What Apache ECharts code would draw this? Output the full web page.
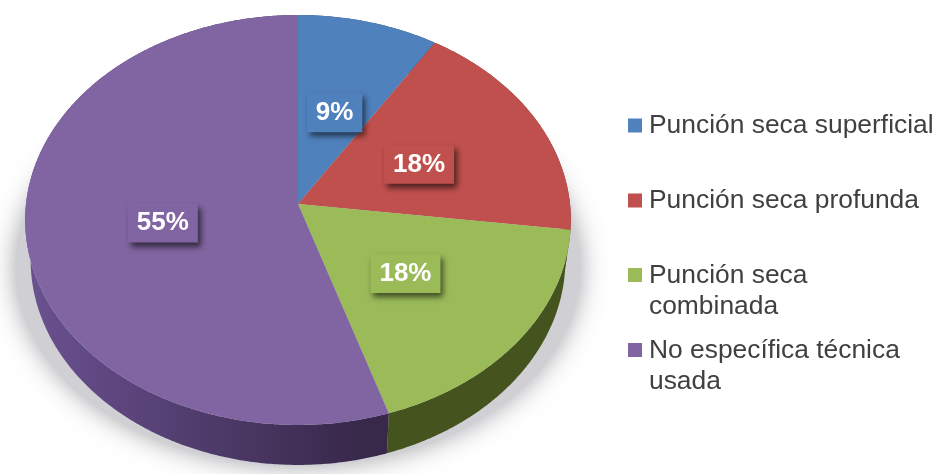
<!DOCTYPE html>
<html>
<head>
<meta charset="utf-8">
<style>html,body{margin:0;padding:0;background:#fff}#chart{width:938px;height:474px}</style>
<script src="https://cdn.jsdelivr.net/npm/echarts@6/dist/echarts.min.js"></script>
</head>
<body>
<div id="chart"></div>
<script>
// Share of studies by dry-needling technique
const categories = ['Punción seca superficial', 'Punción seca profunda', 'Punción seca combinada', 'No específica técnica usada'];
const legendLabels = ['Punción seca superficial', 'Punción seca profunda', 'Punción seca\ncombinada', 'No específica técnica\nusada'];
const percentages = [9, 18, 18, 55];
const faceColours = ['#4f81bd', '#c0504d', '#9bbb59', '#8165a2'];
const wallColours = [
  ['#2c4d74', '#2c4d74'],
  ['#752f2d', '#752f2d'],
  ['#3e4c1c', '#45541f'],
  ['#6a5190', '#38284a']
];

// Perspective projection of the unit disc onto the screen
const view = { cx: 298, cy: 204, halfWidth: 272, lift: -187.8, tilt: 0.078 };
const wall = { drop: 40, narrow: 0.98 };
const ground = { spread: 1.035, squash: 0.965, centreY: 268, middleY: 220 };

function project(u, v) {
  const d = 1 + view.tilt * v;
  return [view.cx + view.halfWidth * u / d, (view.lift * v + view.cy) / d];
}
function rimPoint(deg, radius) {
  const a = deg * Math.PI / 180;
  return project(radius * Math.sin(a), radius * Math.cos(a));
}
function lower(p) {
  return [view.cx + (p[0] - view.cx) * wall.narrow, p[1] + wall.drop];
}
function arc(from, to) {
  const pts = [];
  const steps = Math.max(2, Math.ceil((to - from) * 2));
  for (let i = 0; i <= steps; i++) pts.push(rimPoint(from + (to - from) * i / steps, 1));
  return pts;
}
const total = percentages.reduce((a, b) => a + b, 0);
function sweep(index) {
  const before = percentages.slice(0, index).reduce((a, b) => a + b, 0);
  return [before / total * 360, (before + percentages[index]) / total * 360];
}

const wallSeries = {
  type: 'custom', coordinateSystem: 'none', silent: true, z: 2,
  data: percentages.map(v => [v]),
  renderItem(params) {
    const i = params.dataIndex;
    const [a, b] = sweep(i);
    const top = arc(a, b);
    const bottom = top.map(lower).reverse();
    return {
      type: 'polygon',
      shape: { points: top.concat(bottom) },
      style: {
        fill: new echarts.graphic.LinearGradient(30, 0, 360, 0, [
          { offset: 0, color: wallColours[i][0] },
          { offset: 1, color: wallColours[i][1] }
        ], true)
      }
    };
  }
};

// Soft shadow the disc casts on the ground
const shadowSeries = {
  type: 'custom', coordinateSystem: 'none', silent: true, z: 1,
  data: [[total]],
  renderItem() {
    const pts = arc(0, 360).map(p => [
      view.cx + (p[0] - view.cx) * ground.spread,
      ground.centreY + (p[1] - ground.middleY) * ground.squash
    ]);
    return {
      type: 'polygon',
      shape: { points: pts },
      style: { fill: '#d0d0d4', shadowBlur: 26, shadowColor: 'rgba(70,70,80,0.5)' }
    };
  }
};

const faceSeries = categories.map((name, i) => ({
  type: 'custom', name, coordinateSystem: 'none', silent: true, z: 3,
  itemStyle: { color: faceColours[i] },
  data: [[percentages[i]]],
  renderItem() {
    const [a, b] = sweep(i);
    return {
      type: 'polygon',
      shape: { points: [project(0, 0)].concat(arc(a, b)) },
      style: { fill: faceColours[i] }
    };
  }
}));

const labelSeries = {
  type: 'custom', coordinateSystem: 'none', silent: true, z: 4,
  data: percentages.map(v => [v]),
  renderItem(params, api) {
    const i = params.dataIndex;
    const [a, b] = sweep(i);
    const p = rimPoint((a + b) / 2, 0.5);
    return {
      type: 'text',
      x: p[0], y: p[1] + 3,
      style: {
        text: api.value(0) + '%',
        font: 'bold 26px "Liberation Sans", Arial, sans-serif',
        fill: '#ffffff',
        align: 'center', verticalAlign: 'middle',
        backgroundColor: faceColours[i],
        padding: [7, 9, 6, 9],
        shadowBlur: 6, shadowColor: 'rgba(0,0,0,0.6)', shadowOffsetX: 3, shadowOffsetY: 4
      }
    };
  }
};

// The swatch sits on the first line, so each icon path reserves the full height of its text block
const lineIcon = 'path://M0 8H14V22H0Z M0 0H0V30H0Z';
const blockIcon = 'path://M0 8H14V22H0Z M0 0H0V62H0Z';
const legendTops = [110, 185, 260, 335];

const legends = categories.map((name, i) => {
  const twoLines = legendLabels[i].includes('\n');
  return {
    data: [{ name, icon: twoLines ? blockIcon : lineIcon, itemStyle: { color: faceColours[i] } }],
    left: 628,
    top: legendTops[i],
    padding: 0,
    itemWidth: 14,
    itemHeight: twoLines ? 62 : 30,
    itemGap: 0,
    selectedMode: false,
    formatter: () => legendLabels[i],
    textStyle: {
      color: '#404040',
      fontFamily: '"Liberation Sans", Arial, sans-serif',
      fontSize: 26.4,
      lineHeight: 31,
      padding: [0, 0, 0, 2]
    }
  };
});

const chart = echarts.init(document.getElementById('chart'), null, { renderer: 'canvas' });
chart.setOption({
  animation: false,
  backgroundColor: '#ffffff',
  tooltip: { show: false },
  legend: legends,
  series: [shadowSeries, wallSeries, ...faceSeries, labelSeries]
});
</script>
</body>
</html>
